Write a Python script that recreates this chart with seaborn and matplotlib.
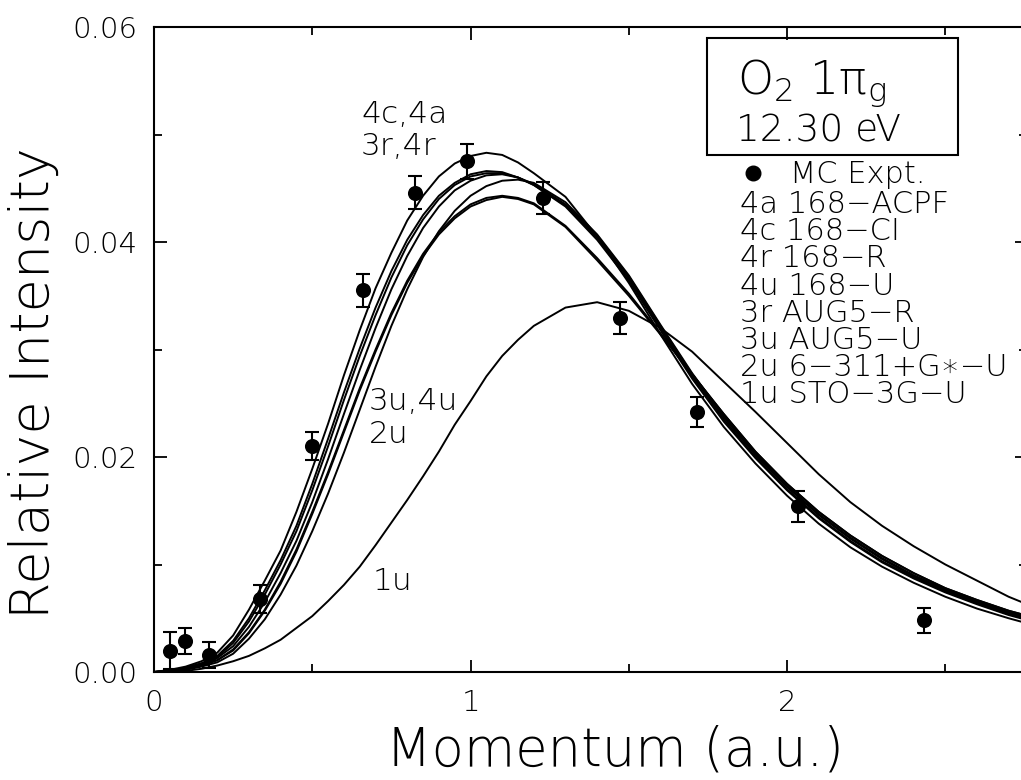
import numpy as np
import pandas as pd
import matplotlib
matplotlib.use("Agg")
import matplotlib.pyplot as plt
import seaborn as sns
from matplotlib.patches import Rectangle
from matplotlib.ticker import FixedLocator, FormatStrFormatter

# ---------------- data ----------------
momentum = [0.0, 0.05, 0.1, 0.15, 0.2, 0.25, 0.3, 0.35, 0.4, 0.45, 0.5, 0.55, 0.6,
            0.65, 0.7, 0.75, 0.8, 0.85, 0.9, 0.95, 1.0, 1.05, 1.1, 1.15, 1.2, 1.3,
            1.4, 1.5, 1.6, 1.7, 1.8, 1.9, 2.0, 2.1, 2.2, 2.3, 2.4, 2.5, 2.6, 2.7, 2.75]

curve_4a = [0.0000, 0.0002, 0.0005, 0.0010, 0.0018, 0.0034, 0.0058, 0.0085, 0.0113, 0.0149,
            0.0189, 0.0231, 0.0276, 0.0318, 0.0357, 0.0390, 0.0420, 0.0443, 0.0461, 0.0473,
            0.0480, 0.0483, 0.0481, 0.0474, 0.0464, 0.0442, 0.0405, 0.0362, 0.0314, 0.0268,
            0.0228, 0.0194, 0.0164, 0.0138, 0.0116, 0.0098, 0.0083, 0.0070, 0.0059, 0.0050, 0.0046]
curve_4c = [0.0000, 0.0001, 0.0004, 0.0008, 0.0015, 0.0029, 0.0050, 0.0076, 0.0104, 0.0136,
            0.0175, 0.0217, 0.0260, 0.0301, 0.0339, 0.0373, 0.0402, 0.0425, 0.0443, 0.0455,
            0.0463, 0.0466, 0.0465, 0.0460, 0.0453, 0.0433, 0.0402, 0.0364, 0.0318, 0.0273,
            0.0233, 0.0199, 0.0169, 0.0143, 0.0121, 0.0102, 0.0087, 0.0074, 0.0063, 0.0053, 0.0049]
curve_4r = [0.0000, 0.0001, 0.0004, 0.0008, 0.0014, 0.0027, 0.0047, 0.0072, 0.0100, 0.0131,
            0.0169, 0.0210, 0.0253, 0.0294, 0.0332, 0.0367, 0.0397, 0.0421, 0.0440, 0.0453,
            0.0461, 0.0464, 0.0464, 0.0460, 0.0453, 0.0434, 0.0404, 0.0366, 0.0320, 0.0275,
            0.0235, 0.0200, 0.0170, 0.0144, 0.0122, 0.0103, 0.0088, 0.0075, 0.0064, 0.0054, 0.0050]
curve_3r = [0.0000, 0.0001, 0.0003, 0.0007, 0.0013, 0.0024, 0.0042, 0.0065, 0.0092, 0.0122,
            0.0158, 0.0198, 0.0240, 0.0281, 0.0320, 0.0356, 0.0387, 0.0413, 0.0433, 0.0448,
            0.0457, 0.0462, 0.0463, 0.0460, 0.0454, 0.0435, 0.0406, 0.0368, 0.0322, 0.0277,
            0.0237, 0.0202, 0.0172, 0.0146, 0.0124, 0.0105, 0.0089, 0.0076, 0.0065, 0.0055, 0.0051]
curve_4u = [0.0000, 0.0001, 0.0003, 0.0006, 0.0011, 0.0021, 0.0037, 0.0058, 0.0084, 0.0114,
            0.0149, 0.0186, 0.0225, 0.0264, 0.0300, 0.0334, 0.0364, 0.0389, 0.0409, 0.0424,
            0.0435, 0.0441, 0.0443, 0.0441, 0.0436, 0.0415, 0.0385, 0.0352, 0.0315, 0.0277,
            0.0240, 0.0205, 0.0175, 0.0149, 0.0127, 0.0108, 0.0092, 0.0078, 0.0067, 0.0057, 0.0053]
curve_3u = [0.0000, 0.0001, 0.0003, 0.0006, 0.0011, 0.0020, 0.0036, 0.0057, 0.0082, 0.0112,
            0.0147, 0.0184, 0.0223, 0.0262, 0.0298, 0.0332, 0.0362, 0.0387, 0.0407, 0.0422,
            0.0433, 0.0439, 0.0442, 0.0440, 0.0435, 0.0414, 0.0383, 0.0350, 0.0314, 0.0277,
            0.0240, 0.0205, 0.0175, 0.0149, 0.0127, 0.0108, 0.0092, 0.0078, 0.0067, 0.0057, 0.0053]
curve_2u = [0.0000, 0.0001, 0.0002, 0.0005, 0.0009, 0.0017, 0.0031, 0.0049, 0.0072, 0.0099,
            0.0131, 0.0166, 0.0204, 0.0244, 0.0284, 0.0322, 0.0356, 0.0386, 0.0410, 0.0429,
            0.0443, 0.0452, 0.0457, 0.0458, 0.0455, 0.0437, 0.0407, 0.0369, 0.0323, 0.0278,
            0.0238, 0.0203, 0.0173, 0.0147, 0.0125, 0.0106, 0.0090, 0.0077, 0.0066, 0.0056, 0.0052]
curve_1u = [0.0000, 0.0000, 0.0001, 0.0003, 0.0006, 0.0010, 0.0015, 0.0022, 0.0030, 0.0041,
            0.0052, 0.0066, 0.0081, 0.0098, 0.0118, 0.0139, 0.0160, 0.0182, 0.0205, 0.0230,
            0.0252, 0.0275, 0.0294, 0.0309, 0.0322, 0.0339, 0.0344, 0.0336, 0.0320, 0.0298,
            0.0270, 0.0242, 0.0213, 0.0184, 0.0158, 0.0136, 0.0117, 0.0100, 0.0085, 0.0070, 0.0064]

model_names = ["4a", "4c", "4r", "4u", "3r", "3u", "2u", "1u"]
model_curves = [curve_4a, curve_4c, curve_4r, curve_4u, curve_3r, curve_3u, curve_2u, curve_1u]

exp_p = [0.050, 0.098, 0.174, 0.335, 0.498, 0.661, 0.825, 0.988, 1.230, 1.472, 1.715, 2.034, 2.434]
exp_I = [0.0020, 0.0029, 0.0016, 0.0068, 0.0210, 0.0355, 0.0446, 0.0475, 0.0441, 0.0329,
         0.0242, 0.0154, 0.0048]
exp_err = [0.0017, 0.0012, 0.0012, 0.0013, 0.0013, 0.0015, 0.0015, 0.0016, 0.0015, 0.0015,
           0.0014, 0.0014, 0.0012]

legend_lines = ["4a 168\u2212ACPF", "4c 168\u2212CI", "4r 168\u2212R", "4u 168\u2212U",
                "3r AUG5\u2212R", "3u AUG5\u2212U", "2u 6\u2212311+G\u2217\u2212U",
                "1u STO\u22123G\u2212U"]
x_ticks = [0, 1, 2]
x_minor = [0.5, 1.5, 2.5]
y_ticks = [0.00, 0.02, 0.04, 0.06]
y_minor = [0.01, 0.03, 0.05]

# ---------------- style ----------------
sns.set_theme(style="ticks")
plt.rcParams["font.family"] = ["DejaVu Sans"]
plt.rcParams["font.weight"] = "light"
plt.rcParams["mathtext.fontset"] = "dejavusans"
plt.rcParams["mathtext.default"] = "regular"
plt.rcParams["text.color"] = "black"
plt.rcParams["axes.labelcolor"] = "black"
plt.rcParams["xtick.color"] = "black"
plt.rcParams["ytick.color"] = "black"
plt.rcParams["axes.linewidth"] = 1.5

W, H = 1021, 780
fig = plt.figure(figsize=(W / 100, H / 100), dpi=100)
fig.patch.set_facecolor("white")
ax = fig.add_axes([154 / W, 1 - 672 / H, (1027 - 154) / W, (672 - 27) / H])
ax.set_facecolor("white")

def fx(px):
    return px / W

def fy(py):
    return 1 - py / H

# curves
rows = []
for name, vals in zip(model_names, model_curves):
    for p, v in zip(momentum, vals):
        rows.append({"model": name, "p": p, "I": v})
df = pd.DataFrame(rows)
sns.lineplot(data=df, x="p", y="I", units="model", estimator=None, color="black",
             lw=1.4, legend=False, ax=ax, sort=False, zorder=2)

# experiment
ax.errorbar(exp_p, exp_I, yerr=exp_err, fmt="none", ecolor="black", elinewidth=1.5,
            capsize=4.7, capthick=1.5, zorder=3)
sns.scatterplot(x=exp_p, y=exp_I, color="black", s=118, linewidth=0, ax=ax, zorder=4,
                legend=False)

ax.set_xlim(0, 2.758)
ax.set_ylim(0, 0.06)
ax.xaxis.set_major_locator(FixedLocator(x_ticks))
ax.xaxis.set_minor_locator(FixedLocator(x_minor))
ax.yaxis.set_major_locator(FixedLocator(y_ticks))
ax.yaxis.set_minor_locator(FixedLocator(y_minor))
ax.yaxis.set_major_formatter(FormatStrFormatter("%.2f"))
ax.xaxis.set_major_formatter(FormatStrFormatter("%d"))
ax.tick_params(which="both", direction="in", top=True, right=True, width=1.3,
               colors="black", labelcolor="black", labelsize=21, pad=12)
ax.tick_params(which="major", length=9)
ax.tick_params(which="minor", length=6)
for s in ax.spines.values():
    s.set_color("black")
    s.set_linewidth(1.5)
ax.set_xlabel("")
ax.set_ylabel("")

# axis labels
fig.text(fx(615), fy(751), "Momentum (a.u.)", fontsize=38, ha="center", va="center",
         fontweight="light")
fig.text(fx(34), fy(383), "Relative Intensity", fontsize=39, ha="center", va="center",
         rotation=90, fontweight="light")

# curve labels
lab_fs = 22.5
fig.text(fx(361), fy(123), "4c,4a", fontsize=lab_fs, ha="left", va="baseline")
fig.text(fx(361), fy(155), "3r,4r", fontsize=lab_fs, ha="left", va="baseline")
fig.text(fx(369), fy(410), "3u,4u", fontsize=lab_fs, ha="left", va="baseline")
fig.text(fx(369), fy(443), "2u", fontsize=lab_fs, ha="left", va="baseline")
fig.text(fx(373), fy(590), "1u", fontsize=lab_fs, ha="left", va="baseline")

# title box
fig.patches.append(Rectangle((fx(707), fy(155)), fx(958) - fx(707), fy(38) - fy(155),
                             transform=fig.transFigure, fill=False, edgecolor="black",
                             linewidth=1.5))
fig.text(fx(737), fy(95), "O$_2$ 1\u03c0$_g$", fontsize=33, ha="left", va="baseline")
fig.text(fx(736), fy(141), "12.30 eV", fontsize=27, ha="left", va="baseline")

# legend
leg_fs = 22
fig.text(fx(790), fy(183), "MC Expt.", fontsize=leg_fs, ha="left", va="baseline")
fig.lines.append(plt.Line2D([fx(753)], [fy(173)], marker="o", markersize=10.5,
                            color="black", transform=fig.transFigure))
for i, t in enumerate(legend_lines):
    fig.text(fx(740), fy(213 + 27.2 * i), t, fontsize=leg_fs, ha="left", va="baseline",
             family=["DejaVu Sans"])

fig.savefig("out.png", dpi=100, facecolor="white")
